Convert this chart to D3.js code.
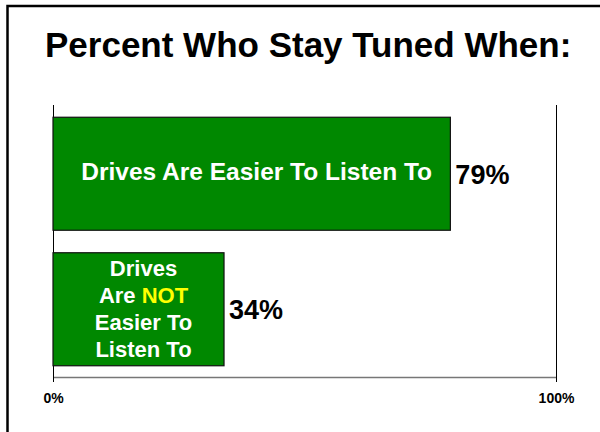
<!DOCTYPE html>
<html lang="en">
<head>
<meta charset="UTF-8">
<title>Percent Who Stay Tuned When</title>
<script src="https://d3js.org/d3.v7.min.js"></script>
<style>
  body { margin: 0; background: #fff; }
  text { font-family: "Liberation Sans", Arial, Helvetica, sans-serif; font-weight: bold; }
</style>
</head>
<body>
<script>
// data
const categories = ["easier", "notEasier"];
const values = [79, 34];
const barLabels = [
  [[{ t: "Drives Are Easier To Listen To" }]],
  [
    [{ t: "Drives" }],
    [{ t: "Are " }, { t: "NOT", hi: true }],
    [{ t: "Easier To" }],
    [{ t: "Listen To" }]
  ]
];
const tickValues = [0, 100];
const title = "Percent Who Stay Tuned When:";

const width = 600, height = 432;
const plotLeft = 53, plotRight = 556, plotTop = 106, plotBottom = 377;

const svg = d3.select("body").append("svg")
  .attr("width", width)
  .attr("height", height);

// outer frame (runs off the right and bottom edges)
svg.append("rect")
  .attr("x", 7.5).attr("y", 6)
  .attr("width", 800).attr("height", 800)
  .attr("fill", "none")
  .attr("stroke", "#000")
  .attr("stroke-width", 2.5);

svg.append("text")
  .attr("x", 45).attr("y", 57)
  .style("font-size", "35px")
  .attr("fill", "#000")
  .text(title);

const x = d3.scaleLinear().domain([0, 100]).range([plotLeft, plotRight]);
const y = d3.scaleBand().domain(categories).range([plotTop, plotBottom])
  .paddingInner(0.166).paddingOuter(0.083);

// axis
const axis = d3.axisBottom(x)
  .tickValues(tickValues)
  .tickFormat(d => d + "%")
  .tickSize(5)
  .tickSizeOuter(0);

const ax = svg.append("g")
  .attr("transform", `translate(0,${plotBottom})`)
  .call(axis);
ax.select(".domain").attr("stroke", "#777").attr("stroke-width", 1.5);
ax.selectAll(".tick line")
  .attr("y1", -(plotBottom - plotTop + 1))
  .attr("y2", 5)
  .attr("stroke", "#000");
ax.selectAll(".tick text")
  .attr("y", 26).attr("dy", 0)
  .attr("fill", "#000")
  .style("font-size", "14px")
  .style("font-family", "'Liberation Sans', Arial, sans-serif")
  .style("font-weight", "bold");

// bars
svg.selectAll(".bar")
  .data(values)
  .enter()
  .append("rect")
  .attr("class", "bar")
  .attr("x", x(0))
  .attr("y", (d, i) => y(categories[i]))
  .attr("width", d => x(d) - x(0))
  .attr("height", y.bandwidth())
  .attr("fill", "#008800")
  .attr("stroke", "#111")
  .attr("stroke-width", 1.2);

// value labels
svg.selectAll(".val")
  .data(values)
  .enter()
  .append("text")
  .attr("class", "val")
  .attr("x", d => x(d) + 5)
  .attr("y", (d, i) => y(categories[i]) + y.bandwidth() / 2 + 10)
  .style("font-size", "27px")
  .attr("fill", "#000")
  .text(d => d + "%");

// labels inside bars
barLabels.forEach((lines, i) => {
  const cx = (x(0) + x(values[i])) / 2 + 5;
  const cy = y(categories[i]) + y.bandwidth() / 2;
  const fs = lines.length > 1 ? 22 : 24.5;
  const step = 27;
  const y0 = lines.length > 1 ? cy - (lines.length - 1) * step / 2 + 7 : cy + 6;
  lines.forEach((parts, j) => {
    const t = svg.append("text")
      .attr("x", cx)
      .attr("y", y0 + j * step)
      .attr("text-anchor", "middle")
      .style("font-size", fs + "px");
    parts.forEach(p => {
      t.append("tspan")
        .attr("fill", p.hi ? "#ffff00" : "#fff")
        .text(p.t);
    });
  });
});
</script>
</body>
</html>
